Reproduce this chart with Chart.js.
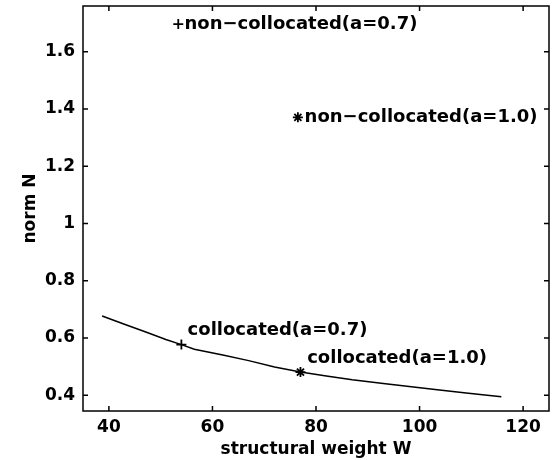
<!DOCTYPE html>
<html>
<head>
<meta charset="utf-8">
<script src="https://cdn.jsdelivr.net/npm/chart.js@4.4.1/dist/chart.umd.min.js"></script>
<style>
  html, body { margin: 0; padding: 0; background: #fff; }
</style>
</head>
<body>
<canvas id="normChart" width="553" height="460"></canvas>
<script>
// collocated curve: norm N against structural weight W
const weightW = [38.7, 43, 47, 51, 54, 56.5, 62, 67, 72, 77, 82, 87, 93, 98, 103, 109, 115.8];
const normN   = [0.677, 0.648, 0.622, 0.595, 0.577, 0.561, 0.541, 0.521, 0.499, 0.481, 0.467, 0.454, 0.441, 0.431, 0.420, 0.408, 0.395];

// single design points
const pointW     = [54, 77, 53.4, 76.5];
const pointN     = [0.577, 0.481, 1.697, 1.371];
const pointShape = ['cross', 'star', 'cross', 'star'];

// text labels (placed in data units, like matlab text())
const labelText = ['collocated(a=0.7)', 'collocated(a=1.0)', 'non\u2212collocated(a=0.7)', 'non\u2212collocated(a=1.0)'];
const labelW    = [55.2, 78.3, 54.6, 77.8];
const labelN    = [0.627, 0.529, 1.697, 1.371];

const xTicks = [40, 60, 80, 100, 120];
const yTicks = [0.4, 0.6, 0.8, 1.0, 1.2, 1.4, 1.6];
const yTickLabels = ['0.4', '0.6', '0.8', '1', '1.2', '1.4', '1.6'];

const FONT = 'DejaVu Sans';

// box round the plot with inward ticks on all four sides
const axisBox = {
  id: 'axisBox',
  afterDatasetsDraw(chart) {
    const { ctx, chartArea: a, scales: { x, y } } = chart;
    const len = 5;
    ctx.save();
    ctx.strokeStyle = '#000';
    ctx.lineWidth = 1.5;
    ctx.strokeRect(a.left, a.top, a.right - a.left, a.bottom - a.top);
    ctx.beginPath();
    x.ticks.forEach(t => {
      const px = x.getPixelForValue(t.value);
      ctx.moveTo(px, a.bottom); ctx.lineTo(px, a.bottom - len);
      ctx.moveTo(px, a.top); ctx.lineTo(px, a.top + len);
    });
    y.ticks.forEach(t => {
      const py = y.getPixelForValue(t.value);
      ctx.moveTo(a.left, py); ctx.lineTo(a.left + len, py);
      ctx.moveTo(a.right, py); ctx.lineTo(a.right - len, py);
    });
    ctx.stroke();
    ctx.restore();
  }
};

const textLabels = {
  id: 'textLabels',
  afterDatasetsDraw(chart) {
    const { ctx, scales: { x, y } } = chart;
    ctx.save();
    ctx.fillStyle = '#000';
    ctx.font = 'bold 18px "' + FONT + '"';
    ctx.textAlign = 'left';
    ctx.textBaseline = 'middle';
    labelText.forEach((txt, i) => {
      ctx.fillText(txt, x.getPixelForValue(labelW[i]), y.getPixelForValue(labelN[i]));
    });
    ctx.restore();
  }
};

const ctx = document.getElementById('normChart').getContext('2d');
new Chart(ctx, {
  type: 'scatter',
  data: {
    datasets: [
      {
        type: 'line',
        data: weightW.map((w, i) => ({ x: w, y: normN[i] })),
        borderColor: '#000',
        borderWidth: 1.5,
        pointRadius: 0,
        tension: 0,
        fill: false
      },
      {
        data: pointW.map((w, i) => ({ x: w, y: pointN[i] })),
        pointStyle: pointShape,
        pointRadius: 5,
        borderColor: '#000',
        backgroundColor: '#000',
        borderWidth: 1.8
      }
    ]
  },
  options: {
    responsive: false,
    animation: false,
    layout: { autoPadding: false, padding: { left: 0, right: 4, top: 6, bottom: 0 } },
    plugins: {
      legend: { display: false },
      tooltip: { enabled: false }
    },
    scales: {
      x: {
        type: 'linear',
        min: 35,
        max: 125,
        afterBuildTicks: s => { s.ticks = xTicks.map(v => ({ value: v })); },
        afterFit: s => { s.height = 49; s.paddingLeft = 0; s.paddingRight = 0; },
        grid: { display: false, drawTicks: false },
        border: { display: false },
        ticks: { color: '#000', padding: 6, font: { family: FONT, size: 17, weight: 'bold' } },
        title: {
          display: true,
          text: 'structural weight W',
          color: '#000',
          padding: { top: 3, bottom: 0 },
          font: { family: FONT, size: 17, weight: 'bold' }
        }
      },
      y: {
        type: 'linear',
        min: 0.345,
        max: 1.76,
        afterBuildTicks: s => { s.ticks = yTicks.map(v => ({ value: v })); },
        afterFit: s => { s.width = 83; s.paddingTop = 0; s.paddingBottom = 0; },
        grid: { display: false, drawTicks: false },
        border: { display: false },
        ticks: {
          color: '#000',
          padding: 8,
          font: { family: FONT, size: 17, weight: 'bold' },
          callback: (v, i) => yTickLabels[i]
        },
        title: {
          display: true,
          text: 'norm N',
          color: '#000',
          padding: { top: 20, bottom: 0 },
          font: { family: FONT, size: 17, weight: 'bold' }
        }
      }
    }
  },
  plugins: [axisBox, textLabels]
});
</script>
</body>
</html>
